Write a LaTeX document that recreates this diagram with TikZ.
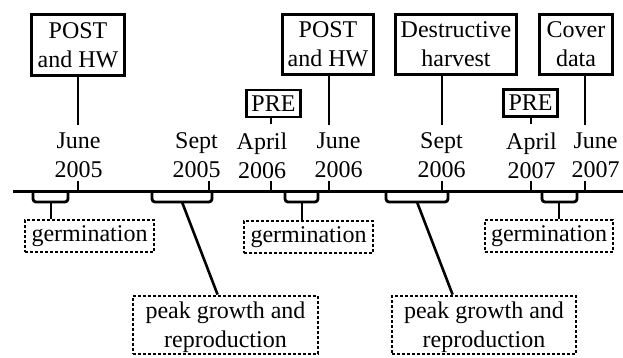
\documentclass[tikz,border=0pt]{standalone}
\usepackage{fontspec}
\setmainfont{Liberation Serif}
\begin{document}
\begin{tikzpicture}[x=1pt,y=-1pt,
  every node/.style={font=\fontsize{24}{28.8}\selectfont},
  solidbox/.style={draw, align=center, inner sep=0pt, line width=2.8pt},
  dotbox/.style={draw, align=center, inner sep=0pt, line width=2.8pt, dash pattern=on 2.6pt off 2.4pt},
  datelbl/.style={align=center, inner xsep=0pt, inner ysep=8pt},
  conn/.style={line width=2.8pt},
  brk/.style={line width=2.8pt, rounded corners=3pt}]
\useasboundingbox (0,0) rectangle (623,357);

% timeline
\coordinate (tl0) at (13,191.5);
\coordinate (tl1) at (623,191.5);
\draw[conn, line width=3.2pt] (tl0) -- (tl1);

% ticks
\foreach \n/\x in {1/78,2/209,3/271,4/329,5/442,6/531,7/585}{
  \coordinate (tk\n) at (\x,191.5);
  \draw[conn] (tk\n) -- ++(0,-11);
}

% date labels
\node[datelbl] (d1) at (78.5,155.5) {June\\2005};
\node[datelbl] (d2) at (196.5,155.5) {Sept\\2005};
\node[datelbl] (d3) at (262,155.5) {April\\2006};
\node[datelbl] (d4) at (338.5,155.5) {June\\2006};
\node[datelbl] (d5) at (441.5,155.5) {Sept\\2006};
\node[datelbl] (d6) at (531.5,155.5) {April\\2007};
\node[datelbl] (d7) at (595.5,155.5) {June\\2007};

% top boxes
\node[solidbox, minimum width=93pt, minimum height=61pt] (post1) at (78,45) {POST\\and HW};
\node[solidbox, minimum width=54pt, minimum height=27pt] (pre1) at (273.5,103.5) {PRE};
\node[solidbox, minimum width=91pt, minimum height=60pt] (post2) at (328,44.5) {POST\\and HW};
\node[solidbox, minimum width=121pt, minimum height=60pt] (dest) at (456,44.5) {Destructive\\harvest};
\node[solidbox, minimum width=54pt, minimum height=27pt] (pre2) at (530.5,103) {PRE};
\node[solidbox, minimum width=73pt, minimum height=60pt] (cover) at (576,44.5) {Cover\\data};

% connectors from top boxes
\draw[conn] (tk1 |- post1.south) -- (tk1 |- d1.north);
\draw[conn] (tk3 |- pre1.south) -- (tk3 |- d3.north);
\draw[conn] (tk4 |- post2.south) -- (tk4 |- d4.north);
\draw[conn] (tk5 |- dest.south) -- (tk5 |- d5.north);
\draw[conn] (tk6 |- pre2.south) -- (tk6 |- d6.north);
\draw[conn] (tk7 |- cover.south) -- (tk7 |- d7.north);

% bottom boxes
\node[dotbox, minimum width=129pt, minimum height=32pt] (g1) at (89.5,236) {germination};
\node[dotbox, minimum width=129pt, minimum height=32pt] (g2) at (308.5,237) {germination};
\node[dotbox, minimum width=128pt, minimum height=32pt] (g3) at (549,236) {germination};
\node[dotbox, minimum width=185pt, minimum height=58pt, text depth=0pt] (p1) at (225.5,325) {peak growth and\\reproduction};
\node[dotbox, minimum width=184pt, minimum height=58pt, text depth=0pt] (p2) at (484,325) {peak growth and\\reproduction};

% brackets
\draw[brk] (33,191.5) -- (33,202) -- (68,202) -- (68,191.5);
\draw[brk] (152,191.5) -- (152,202) -- (212,202) -- (212,191.5);
\draw[brk] (285,191.5) -- (285,202) -- (318,202) -- (318,191.5);
\draw[brk] (386,191.5) -- (386,202) -- (448,202) -- (448,191.5);
\draw[brk] (542,191.5) -- (542,202) -- (577,202) -- (577,191.5);

\coordinate (s1) at (51,202);
\coordinate (s2) at (182,202);
\coordinate (s3) at (302,202);
\coordinate (s4) at (417,202);
\coordinate (s5) at (559,202);

\draw[conn] (s1) -- (s1 |- g1.north);
\draw[conn] (s3) -- (s3 |- g2.north);
\draw[conn] (s5) -- (s5 |- g3.north);
\draw[conn, line width=2.6pt] (s2) -- ([xshift=86pt]p1.north west);
\draw[conn, line width=2.6pt] (s4) -- ([xshift=62pt]p2.north west);
\end{tikzpicture}
\end{document}
